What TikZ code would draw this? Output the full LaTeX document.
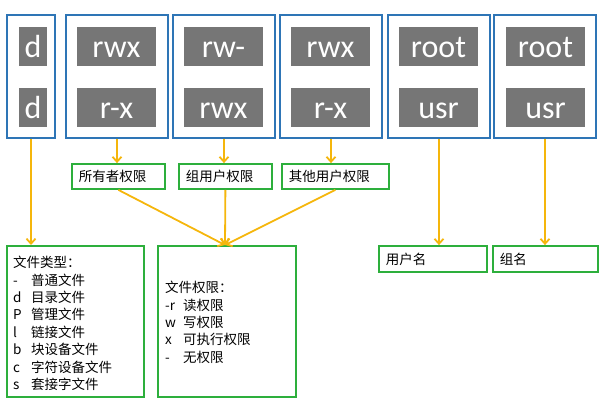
\documentclass[tikz,border=0pt]{standalone}
\usepackage{fontspec}
\setmainfont{Carlito}
\newfontfamily\cjk{Noto Sans CJK SC}
\usetikzlibrary{arrows.meta}
\definecolor{bblue}{HTML}{2E75B6}
\definecolor{ggrey}{HTML}{767676}
\definecolor{ggreen}{HTML}{2DAF3C}
\definecolor{aorange}{HTML}{F5B60C}
\begin{document}
\begin{tikzpicture}[x=1pt,y=-1pt,
  outer/.style={draw=bblue, line width=1.8pt, inner sep=0},
  greybox/.style={fill=ggrey, text=white, font=\fontsize{32}{32}\selectfont, inner sep=0, text height=30pt, text depth=9pt},
  gbox/.style={draw=ggreen, line width=1.8pt, anchor=west, minimum height=25pt, inner xsep=7pt, align=left, font=\cjk\fontsize{13.5}{16}\selectfont},
  bigbox/.style={draw=ggreen, line width=1.8pt, inner sep=0, anchor=north west},
  lbl/.style={font=\cjk\fontsize{13.5}{17.4}\selectfont, anchor=north west, inner sep=0, align=left},
  arr/.style={draw=aorange, line width=1.8pt, -{Straight Barb[length=5pt,width=9pt,line width=1.8pt]}}
]
\useasboundingbox (0,0) rectangle (600,400);
% outer blue boxes
\node[outer, minimum width=48pt, minimum height=123pt] (b1) at (31,76.5) {};
\node[outer, minimum width=102pt, minimum height=123pt] (b2) at (117,76.5) {};
\node[outer, minimum width=102pt, minimum height=123pt] (b3) at (224,76.5) {};
\node[outer, minimum width=102pt, minimum height=123pt] (b4) at (331,76.5) {};
\node[outer, minimum width=102pt, minimum height=123pt] (b5) at (439,76.5) {};
\node[outer, minimum width=102pt, minimum height=123pt] (b6) at (545,76.5) {};
% grey boxes
\node[greybox, minimum width=28pt] (g1a) at (33,46.5) {d};
\node[greybox, minimum width=28pt] (g1b) at (33,107.5) {d};
\node[greybox, minimum width=79pt] (g2a) at (116.5,46.5) {rwx};
\node[greybox, minimum width=79pt] (g2b) at (116.5,107.5) {r-x};
\node[greybox, minimum width=79pt] (g3a) at (223.5,46.5) {rw-};
\node[greybox, minimum width=79pt] (g3b) at (223.5,107.5) {rwx};
\node[greybox, minimum width=79pt] (g4a) at (330.5,46.5) {rwx};
\node[greybox, minimum width=79pt] (g4b) at (330.5,107.5) {r-x};
\node[greybox, minimum width=79pt] (g5a) at (438.5,46.5) {root};
\node[greybox, minimum width=79pt] (g5b) at (438.5,107.5) {usr};
\node[greybox, minimum width=79pt] (g6a) at (545.5,46.5) {root};
\node[greybox, minimum width=79pt] (g6b) at (545.5,107.5) {usr};
% green label boxes
\node[gbox, text width=79pt] (own) at (71,176.5) {所有者权限};
\node[gbox, text width=79pt] (grp) at (178,176.5) {组用户权限};
\node[gbox, text width=93pt] (oth) at (281,176.5) {其他用户权限};
\node[gbox, text width=94pt, minimum height=26pt] (uname) at (378,259) {用户名};
\node[gbox, text width=91pt, minimum height=26pt] (gname) at (492,259) {组名};
% big boxes
\node[bigbox, minimum width=137pt, minimum height=151pt] (typebox) at (6,245) {};
\node[bigbox, minimum width=138pt, minimum height=151pt] (permbox) at (157,245) {};
\node[lbl] (typetext) at (13,256) {文件类型：\\
\makebox[18pt][l]{-}普通文件\\
\makebox[18pt][l]{d}目录文件\\
\makebox[18pt][l]{P}管理文件\\
\makebox[18pt][l]{l}链接文件\\
\makebox[18pt][l]{b}块设备文件\\
\makebox[18pt][l]{c}字符设备文件\\
\makebox[18pt][l]{s}套接字文件};
\node[lbl] (permtext) at (165,281) {文件权限：\\
\makebox[18pt][l]{-r}读权限\\
\makebox[18pt][l]{w}写权限\\
\makebox[18pt][l]{x}可执行权限\\
\makebox[18pt][l]{-}无权限};
% arrows
\coordinate (conv) at (225,245);
\draw[arr] (b1.south) -- (b1.south |- typebox.north);
\draw[arr] (b2.south) -- (b2.south |- own.north);
\draw[arr] (b3.south) -- (b3.south |- grp.north);
\draw[arr] (b4.south) -- (b4.south |- oth.north);
\draw[arr] (b5.south) -- (b5.south |- uname.north);
\draw[arr] (b6.south) -- (b6.south |- gname.north);
\draw[arr] (own.south) -- (conv);
\draw[arr] (grp.south) -- (conv);
\draw[arr] (oth.south) -- (conv);
\end{tikzpicture}
\end{document}
